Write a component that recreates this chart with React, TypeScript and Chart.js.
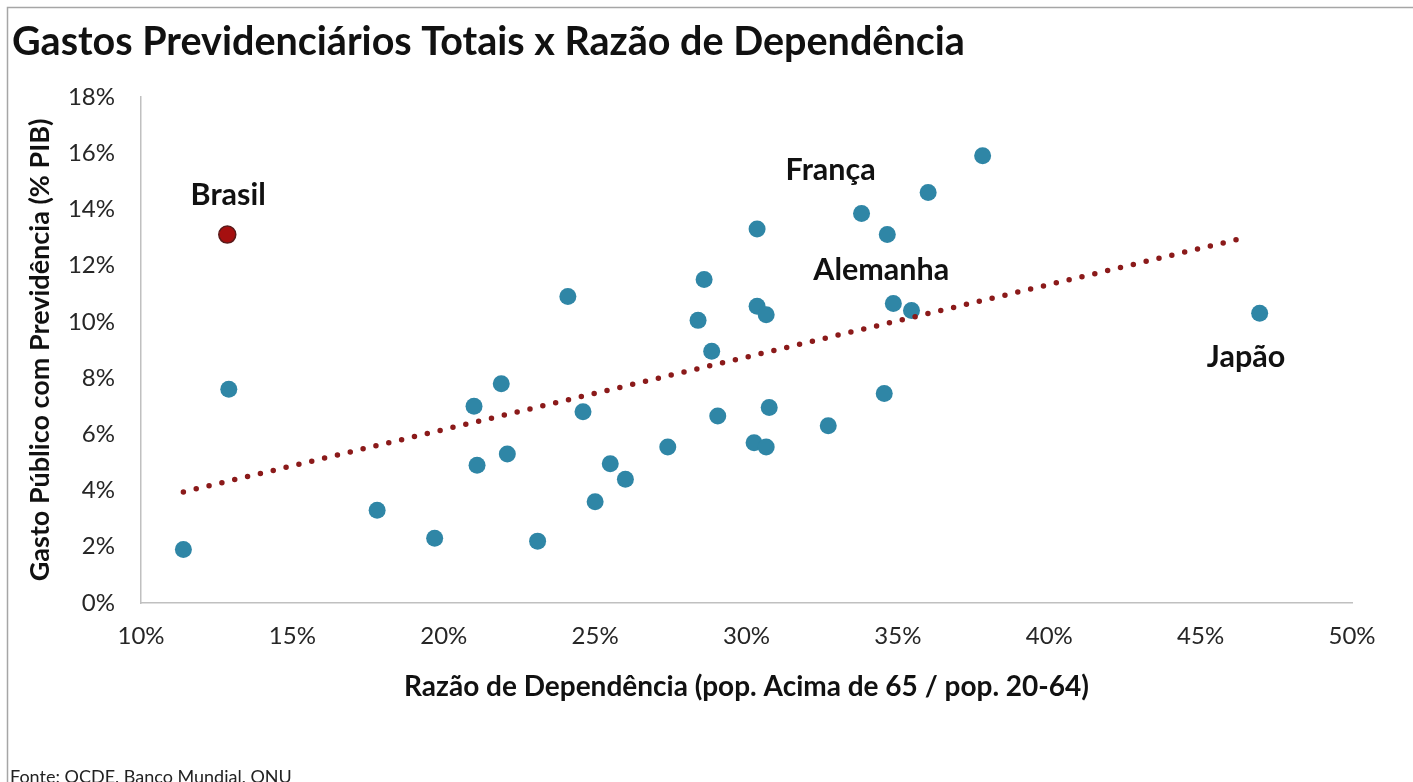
import React, { useEffect, useRef } from "react";
import { Chart, registerables } from "chart.js";

Chart.register(...registerables);

const TITLE = "Gastos Previdenciários Totais x Razão de Dependência";
const X_TITLE = "Razão de Dependência (pop. Acima de 65 / pop. 20-64)";
const Y_TITLE = "Gasto Público com Previdência (% PIB)";
const SOURCE = "Fonte: OCDE, Banco Mundial, ONU";

// Countries (x = dependency ratio %, y = pension spending % of GDP)
const dependencyRatio = [
  11.4, 12.9, 17.8, 19.7, 21.0, 21.1, 21.9, 22.1, 23.1, 24.1, 24.6, 25.0, 25.5,
  26.0, 27.4, 28.4, 28.6, 28.85, 29.05, 30.25, 30.35, 30.35, 30.65, 30.65, 30.75,
  32.7, 33.8, 34.55, 34.65, 34.85, 35.45, 36.0, 37.8, 46.95,
];
const pensionSpending = [
  1.9, 7.6, 3.3, 2.3, 7.0, 4.9, 7.8, 5.3, 2.2, 10.9, 6.8, 3.6, 4.95,
  4.4, 5.55, 10.05, 11.5, 8.95, 6.65, 5.7, 13.3, 10.55, 10.25, 5.55, 6.95,
  6.3, 13.85, 7.45, 13.1, 10.65, 10.4, 14.6, 15.9, 10.3,
];

// Brazil
const brasilX = [12.85];
const brasilY = [13.1];

// Trend line endpoints
const trendX = [11.4, 46.5];
const trendY = [3.95, 13.0];

// Text annotations (data coordinates)
const labelNames = ["Brasil", "França", "Alemanha", "Japão"];
const labelX = [12.88, 32.78, 34.45, 46.5];
const labelY = [14.52, 15.4, 11.85, 8.75];

// Axis ticks
const xTicks = [10, 15, 20, 25, 30, 35, 40, 45, 50];
const yTicks = [0, 2, 4, 6, 8, 10, 12, 14, 16, 18];

const FONT = "Lato, 'Open Sans', sans-serif";

const annotationsPlugin = {
  id: "annotations",
  beforeDraw(chart: any) {
    const ctx = chart.ctx;
    ctx.save();
    ctx.fillStyle = "#ffffff";
    ctx.fillRect(0, 0, chart.width, chart.height);
    ctx.strokeStyle = "#a6a6a6";
    ctx.lineWidth = 1.5;
    ctx.beginPath();
    ctx.moveTo(7.5, chart.height);
    ctx.lineTo(7.5, 7.5);
    ctx.lineTo(chart.width, 7.5);
    ctx.stroke();
    ctx.restore();
  },
  afterDatasetsDraw(chart: any) {
    const ctx = chart.ctx;
    const xs = chart.scales.x;
    const ys = chart.scales.y;
    ctx.save();
    ctx.fillStyle = "#111111";
    ctx.font = `bold 30.5px ${FONT}`;
    ctx.textAlign = "center";
    ctx.textBaseline = "middle";
    labelNames.forEach((name, i) => {
      ctx.fillText(name, xs.getPixelForValue(labelX[i]), ys.getPixelForValue(labelY[i]));
    });
    ctx.font = `18px ${FONT}`;
    ctx.textAlign = "left";
    ctx.fillStyle = "#222222";
    ctx.fillText(SOURCE, 10, chart.height - 5);
    ctx.restore();
  },
};

export default function App() {
  const canvasRef = useRef<HTMLCanvasElement | null>(null);

  useEffect(() => {
    const canvas = canvasRef.current;
    if (!canvas) return;
    const countryPoints = dependencyRatio.map((x, i) => ({ x, y: pensionSpending[i] }));
    const brasilPoints = brasilX.map((x, i) => ({ x, y: brasilY[i] }));
    const trendPoints = trendX.map((x, i) => ({ x, y: trendY[i] }));

    const chart = new Chart(canvas, {
      type: "scatter",
      data: {
        datasets: [
          {
            label: "Tendência",
            data: trendPoints,
            showLine: true,
            borderColor: "#8b1a1a",
            borderWidth: 5.5,
            borderDash: [0, 13.2],
            borderCapStyle: "round",
            pointRadius: 0,
            order: 0,
          } as any,
          {
            label: "Brasil",
            data: brasilPoints,
            backgroundColor: "#a50f0f",
            borderColor: "#5a1a1a",
            borderWidth: 1.5,
            pointRadius: 8.5,
            order: 1,
          },
          {
            label: "Países",
            data: countryPoints,
            backgroundColor: "#2f86a6",
            borderColor: "#2f86a6",
            borderWidth: 0,
            pointRadius: 8.5,
            order: 2,
          },
        ],
      },
      options: {
        responsive: false,
        animation: false,
        layout: { padding: { left: 12, top: 0, right: 61, bottom: 59 } },
        plugins: {
          legend: { display: false },
          tooltip: { enabled: false },
          title: {
            display: true,
            text: TITLE,
            align: "start",
            color: "#111111",
            font: { family: FONT, size: 39.5, weight: "bold", lineHeight: 1.2 },
            padding: { top: 19, bottom: 30.4 },
          },
        },
        scales: {
          x: {
            type: "linear",
            min: 10,
            max: 50,
            afterFit(scale: any) {
              scale.height = 120;
            },
            afterBuildTicks(scale: any) {
              scale.ticks = xTicks.map((v) => ({ value: v }));
            },
            grid: { display: false, drawTicks: false },
            border: { display: true, color: "#c0c0c0", width: 1.5 },
            ticks: {
              color: "#262626",
              font: { family: FONT, size: 24 },
              padding: 19,
              callback: (v: any) => `${v}%`,
            },
            title: {
              display: true,
              text: X_TITLE,
              color: "#111111",
              font: { family: FONT, size: 28, weight: "bold" },
              padding: { top: 0, bottom: 19.2 },
            },
          },
          y: {
            type: "linear",
            min: 0,
            max: 18,
            afterFit(scale: any) {
              scale.width = 129;
            },
            afterBuildTicks(scale: any) {
              scale.ticks = yTicks.map((v) => ({ value: v }));
            },
            grid: { display: false, drawTicks: false },
            border: { display: true, color: "#c0c0c0", width: 1.5 },
            ticks: {
              color: "#262626",
              font: { family: FONT, size: 24 },
              padding: 26,
              callback: (v: any) => `${v}%`,
            },
            title: {
              display: true,
              text: Y_TITLE,
              color: "#111111",
              font: { family: FONT, size: 27, weight: "bold" },
              padding: { top: 11.8, bottom: 0 },
            },
          },
        },
      },
      plugins: [annotationsPlugin],
    });
    return () => chart.destroy();
  }, []);

  return (
    <div
      style={{
        position: "fixed",
        left: 0,
        top: 0,
        width: 1413,
        height: 782,
        background: "#ffffff",
        overflow: "hidden",
      }}
    >
      <canvas ref={canvasRef} width={1413} height={782} style={{ display: "block" }} />
    </div>
  );
}
